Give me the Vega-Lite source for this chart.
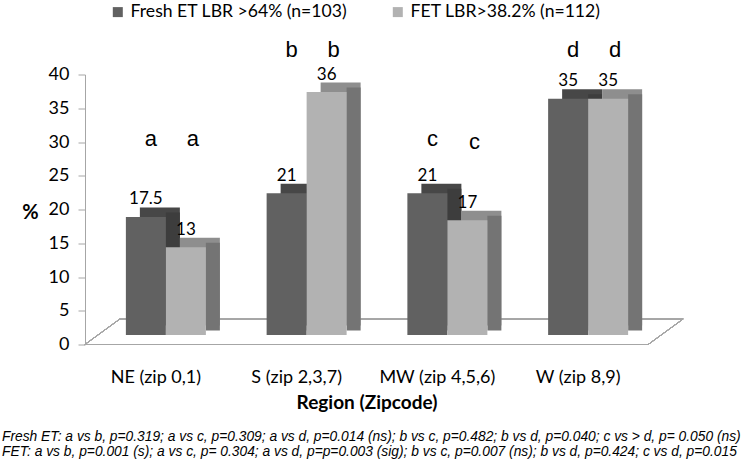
{
  "$schema": "https://vega.github.io/schema/vega-lite/v6.json",
  "autosize": "none",
  "width": 563,
  "height": 270,
  "padding": {"left": 85, "top": 74.5, "right": 94, "bottom": 117.5},
  "background": "white",
  "config": {
    "view": {"stroke": null},
    "font": "Lato",
    "axisX": {
      "labelAngle": 0, "domain": false, "ticks": false, "grid": false,
      "labelFont": "Lato", "labelFontSize": 18, "labelColor": "#000000", "labelPadding": 24,
      "titleFont": "Lato", "titleFontSize": 19, "titleFontWeight": "bold", "titleColor": "#000000", "titlePadding": 7
    },
    "axisY": {
      "grid": false, "tickCount": 8,
      "domainColor": "#a6a6a6", "tickColor": "#a6a6a6", "tickSize": 7,
      "labelFont": "Lato", "labelFontSize": 18, "labelColor": "#000000", "labelPadding": 9,
      "titleFont": "Lato", "titleFontSize": 20, "titleFontWeight": "bold", "titleColor": "#000000",
      "titleAngle": 0, "titleX": -55, "titleY": 137.5, "titleAlign": "center", "titleBaseline": "middle"
    }
  },
  "title": {
    "text": [
      "Fresh ET:  a vs b, p=0.319; a vs c, p=0.309; a vs d, p=0.014 (ns); b vs c, p=0.482; b vs d, p=0.040; c vs >  d, p= 0.050 (ns)",
      "FET:  a vs b, p=0.001 (s); a vs c, p= 0.304; a vs d, p=p=0.003 (sig); b vs c, p=0.007 (ns); b vs d, p=0.424; c vs d, p=0.015"
    ],
    "orient": "bottom", "anchor": "start", "frame": "group", "dx": -83, "offset": 17,
    "font": "Liberation Sans", "fontSize": 13.8, "fontStyle": "italic", "fontWeight": "normal",
    "color": "#000000", "lineHeight": 15.5
  },
  "data": {
    "values": [
      {"region": "NE (zip 0,1)", "series": "Fresh ET LBR >64% (n=103)", "value": 17.5, "label": "17.5", "letter": "a", "letterY": 30.4},
      {"region": "NE (zip 0,1)", "series": "FET LBR>38.2% (n=112)", "value": 13, "label": "13", "letter": "a", "letterY": 30.4},
      {"region": "S (zip 2,3,7)", "series": "Fresh ET LBR >64% (n=103)", "value": 21, "label": "21", "letter": "b", "letterY": 43.6},
      {"region": "S (zip 2,3,7)", "series": "FET LBR>38.2% (n=112)", "value": 36, "label": "36", "letter": "b", "letterY": 43.6},
      {"region": "MW (zip 4,5,6)", "series": "Fresh ET LBR >64% (n=103)", "value": 21, "label": "21", "letter": "c", "letterY": 30.4},
      {"region": "MW (zip 4,5,6)", "series": "FET LBR>38.2% (n=112)", "value": 17, "label": "17", "letter": "c", "letterY": 30.0},
      {"region": "W (zip 8,9)", "series": "Fresh ET LBR >64% (n=103)", "value": 35, "label": "35", "letter": "d", "letterY": 43.6},
      {"region": "W (zip 8,9)", "series": "FET LBR>38.2% (n=112)", "value": 35, "label": "35", "letter": "d", "letterY": 43.6}
    ]
  },
  "layer": [
    {
      "mark": {"type": "rule", "color": "#a6a6a6", "strokeWidth": 1, "xOffset": -70.5, "x2Offset": 70.5},
      "encoding": {
        "x": {"datum": "NE (zip 0,1)", "type": "nominal", "title": "Region (Zipcode)",
              "scale": {"type": "point", "padding": 0.5, "domain": ["NE (zip 0,1)", "S (zip 2,3,7)", "MW (zip 4,5,6)", "W (zip 8,9)"]}},
        "x2": {"datum": "W (zip 8,9)"},
        "y": {"datum": 0, "type": "quantitative", "title": "%", "scale": {"domain": [0, 40]}}
      }
    },
    {
      "mark": {"type": "rule", "color": "#a6a6a6", "strokeWidth": 1, "xOffset": -35.5, "x2Offset": 105.5, "yOffset": -25.5},
      "encoding": {
        "x": {"datum": "NE (zip 0,1)", "type": "nominal", "title": "Region (Zipcode)"},
        "x2": {"datum": "W (zip 8,9)"},
        "y": {"datum": 0, "type": "quantitative", "title": "%"}
      }
    },
    {
      "mark": {"type": "rule", "color": "#a6a6a6", "strokeWidth": 1, "xOffset": -70.5, "x2Offset": -35.5, "y2Offset": -25.5},
      "encoding": {
        "x": {"datum": "NE (zip 0,1)", "type": "nominal", "title": "Region (Zipcode)"},
        "x2": {"datum": "NE (zip 0,1)"},
        "y": {"datum": 0, "type": "quantitative", "title": "%"},
        "y2": {"datum": 0}
      }
    },
    {
      "mark": {"type": "rule", "color": "#a6a6a6", "strokeWidth": 1, "xOffset": 70.5, "x2Offset": 105.5, "y2Offset": -25.5},
      "encoding": {
        "x": {"datum": "W (zip 8,9)", "type": "nominal", "title": "Region (Zipcode)"},
        "x2": {"datum": "W (zip 8,9)"},
        "y": {"datum": 0, "type": "quantitative", "title": "%"},
        "y2": {"datum": 0}
      }
    },
    {
      "transform": [{"filter": {"field": "series", "equal": "Fresh ET LBR >64% (n=103)"}}],
      "mark": {"type": "bar", "width": 40, "color": "#474747", "xOffset": 4.5, "yOffset": -19, "y2Offset": -16.5},
      "encoding": {
        "x": {"field": "region", "type": "nominal", "sort": null, "title": "Region (Zipcode)"},
        "y": {"field": "value", "type": "quantitative", "title": "%"}
      }
    },
    {
      "transform": [{"filter": {"field": "series", "equal": "Fresh ET LBR >64% (n=103)"}}],
      "mark": {"type": "bar", "width": 14, "color": "#3d3d3d", "xOffset": 17.5, "yOffset": -14, "y2Offset": -12},
      "encoding": {
        "x": {"field": "region", "type": "nominal", "sort": null, "title": "Region (Zipcode)"},
        "y": {"field": "value", "type": "quantitative", "title": "%"}
      }
    },
    {
      "transform": [{"filter": {"field": "series", "equal": "FET LBR>38.2% (n=112)"}}],
      "mark": {"type": "bar", "width": 40, "color": "#8e8e8e", "xOffset": 44.5, "yOffset": -19, "y2Offset": -16.5},
      "encoding": {
        "x": {"field": "region", "type": "nominal", "sort": null, "title": "Region (Zipcode)"},
        "y": {"field": "value", "type": "quantitative", "title": "%"}
      }
    },
    {
      "transform": [{"filter": {"field": "series", "equal": "FET LBR>38.2% (n=112)"}}],
      "mark": {"type": "bar", "width": 14, "color": "#747474", "xOffset": 57.5, "yOffset": -14, "y2Offset": -12},
      "encoding": {
        "x": {"field": "region", "type": "nominal", "sort": null, "title": "Region (Zipcode)"},
        "y": {"field": "value", "type": "quantitative", "title": "%"}
      }
    },
    {
      "transform": [{"filter": {"field": "series", "equal": "Fresh ET LBR >64% (n=103)"}}],
      "mark": {"type": "bar", "width": 40, "xOffset": -9.5, "yOffset": -9.5, "y2Offset": -7.5},
      "encoding": {
        "x": {"field": "region", "type": "nominal", "sort": null, "title": "Region (Zipcode)"},
        "y": {"field": "value", "type": "quantitative", "title": "%"},
        "color": {
          "field": "series", "type": "nominal",
          "scale": {"domain": ["Fresh ET LBR >64% (n=103)", "FET LBR>38.2% (n=112)"], "range": ["#616161", "#b2b2b2"]},
          "legend": {
            "title": null, "orient": "none", "direction": "horizontal", "legendX": 24, "legendY": -71.5,
            "symbolType": "square", "symbolSize": 100, "symbolStrokeWidth": 0,
            "labelFont": "Lato", "labelFontSize": 17.6, "labelColor": "#000000", "labelLimit": 400,
            "labelOffset": 4, "columnPadding": 41
          }
        }
      }
    },
    {
      "transform": [{"filter": {"field": "series", "equal": "FET LBR>38.2% (n=112)"}}],
      "mark": {"type": "bar", "width": 40, "xOffset": 30.5, "yOffset": -9.5, "y2Offset": -7.5},
      "encoding": {
        "x": {"field": "region", "type": "nominal", "sort": null, "title": "Region (Zipcode)"},
        "y": {"field": "value", "type": "quantitative", "title": "%"},
        "color": {"field": "series", "type": "nominal"}
      }
    },
    {
      "transform": [{"filter": {"field": "series", "equal": "Fresh ET LBR >64% (n=103)"}}],
      "mark": {"type": "text", "font": "Lato", "fontSize": 17, "color": "#000000", "baseline": "middle", "xOffset": -9.5, "dy": -27},
      "encoding": {
        "x": {"field": "region", "type": "nominal", "sort": null, "title": "Region (Zipcode)"},
        "y": {"field": "value", "type": "quantitative", "title": "%"},
        "text": {"field": "label"}
      }
    },
    {
      "transform": [{"filter": {"field": "series", "equal": "FET LBR>38.2% (n=112)"}}],
      "mark": {"type": "text", "font": "Lato", "fontSize": 17, "color": "#000000", "baseline": "middle", "xOffset": 30.5, "dy": -27},
      "encoding": {
        "x": {"field": "region", "type": "nominal", "sort": null, "title": "Region (Zipcode)"},
        "y": {"field": "value", "type": "quantitative", "title": "%"},
        "text": {"field": "label"}
      }
    },
    {
      "transform": [{"filter": {"field": "series", "equal": "Fresh ET LBR >64% (n=103)"}}],
      "mark": {"type": "text", "font": "Liberation Sans", "fontSize": 22, "color": "#000000", "baseline": "middle", "xOffset": -4.5},
      "encoding": {
        "x": {"field": "region", "type": "nominal", "sort": null, "title": "Region (Zipcode)"},
        "y": {"field": "letterY", "type": "quantitative", "title": "%"},
        "text": {"field": "letter"}
      }
    },
    {
      "transform": [{"filter": {"field": "series", "equal": "FET LBR>38.2% (n=112)"}}],
      "mark": {"type": "text", "font": "Liberation Sans", "fontSize": 22, "color": "#000000", "baseline": "middle", "xOffset": 37.5},
      "encoding": {
        "x": {"field": "region", "type": "nominal", "sort": null, "title": "Region (Zipcode)"},
        "y": {"field": "letterY", "type": "quantitative", "title": "%"},
        "text": {"field": "letter"}
      }
    }
  ]
}
